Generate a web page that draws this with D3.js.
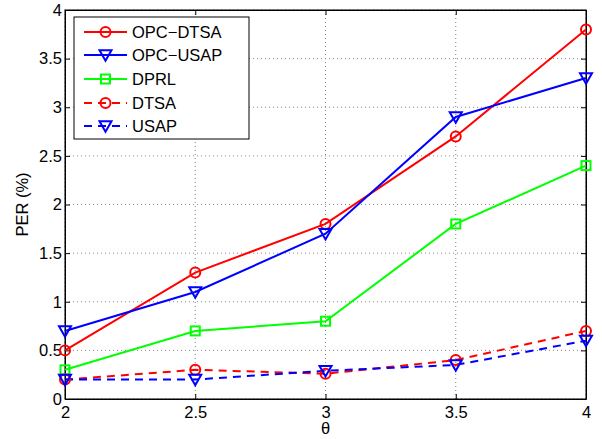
<!DOCTYPE html>
<html>
<head>
<meta charset="utf-8">
<script src="https://d3js.org/d3.v7.min.js"></script>
<style>
  html, body { margin: 0; padding: 0; background: #fff; }
  svg { display: block; font-family: "Liberation Sans", Arial, sans-serif; }
</style>
</head>
<body>
<svg id="chart" width="602" height="439"></svg>
<script>
// Packet error rate versus theta for five schemes
const thetas = [2, 2.5, 3, 3.5, 4];
const xTicks = [2, 2.5, 3, 3.5, 4];
const yTicks = [0, 0.5, 1, 1.5, 2, 2.5, 3, 3.5, 4];

const opcDtsa = [0.5, 1.3, 1.8, 2.7, 3.8];
const opcUsap = [0.7, 1.1, 1.7, 2.9, 3.3];
const dprl    = [0.3, 0.7, 0.8, 1.8, 2.4];
const dtsa    = [0.2, 0.3, 0.26, 0.4, 0.7];
const usap    = [0.2, 0.2, 0.29, 0.35, 0.6];

const seriesNames = ["OPC\u2212DTSA", "OPC\u2212USAP", "DPRL", "DTSA", "USAP"];
const seriesValues = [opcDtsa, opcUsap, dprl, dtsa, usap];
const seriesColors = ["#ff0000", "#0000ff", "#00ff00", "#ff0000", "#0000ff"];
const seriesMarkers = ["circle", "triangle", "square", "circle", "triangle"];
const seriesDashed = [false, false, false, true, true];

const svg = d3.select("#chart");
const pLeft = 65, pRight = 586, pTop = 10, pBottom = 399;
const fontSize = 16.5;

const x = d3.scaleLinear().domain([2, 4]).range([pLeft, pRight]);
const y = d3.scaleLinear().domain([0, 4]).range([pBottom, pTop]);

// dotted grid
const grid = svg.append("g");
xTicks.forEach(t => {
  grid.append("line").attr("x1", x(t)).attr("x2", x(t)).attr("y1", pTop).attr("y2", pBottom)
    .attr("stroke", "#888").attr("stroke-width", 1).attr("stroke-dasharray", "1,3");
});
yTicks.forEach(t => {
  grid.append("line").attr("x1", pLeft).attr("x2", pRight).attr("y1", y(t)).attr("y2", y(t))
    .attr("stroke", "#888").attr("stroke-width", 1).attr("stroke-dasharray", "1,3");
});

// axes with inward ticks on all four sides
const tickLen = 5;
svg.append("g").attr("transform", `translate(0,${pBottom})`)
  .call(d3.axisBottom(x).tickValues(xTicks).tickSizeInner(-tickLen).tickSizeOuter(0).tickPadding(7).tickFormat(d3.format("")));
svg.append("g").attr("transform", `translate(${pLeft},0)`)
  .call(d3.axisLeft(y).tickValues(yTicks).tickSizeInner(-tickLen).tickSizeOuter(0).tickPadding(3).tickFormat(d3.format("")));
svg.append("g").attr("transform", `translate(0,${pTop})`)
  .call(d3.axisTop(x).tickValues(xTicks).tickSizeInner(-tickLen).tickSizeOuter(0).tickFormat(""));
svg.append("g").attr("transform", `translate(${pRight},0)`)
  .call(d3.axisRight(y).tickValues(yTicks).tickSizeInner(-tickLen).tickSizeOuter(0).tickFormat(""));

svg.selectAll(".domain").attr("stroke", "#000").attr("stroke-width", 1);
svg.selectAll(".tick line").attr("stroke", "#000");
svg.selectAll(".tick text").attr("font-size", fontSize).attr("fill", "#000")
  .attr("font-family", "'Liberation Sans', Arial, sans-serif");

// box frame
svg.append("rect").attr("x", pLeft).attr("y", pTop).attr("width", pRight - pLeft).attr("height", pBottom - pTop)
  .attr("fill", "none").attr("stroke", "#000").attr("stroke-width", 1);

// axis titles
svg.append("text").attr("x", (pLeft + pRight) / 2).attr("y", 434).attr("text-anchor", "middle")
  .attr("font-size", fontSize).text("\u03b8");
svg.append("text").attr("transform", `translate(28,${(pTop + pBottom) / 2}) rotate(-90)`)
  .attr("text-anchor", "middle").attr("font-size", fontSize).text("PER (%)");

function drawMarker(g, type, cx, cy, color) {
  if (type === "circle") {
    g.append("circle").attr("cx", cx).attr("cy", cy).attr("r", 5)
      .attr("fill", "none").attr("stroke", color).attr("stroke-width", 2);
  } else if (type === "triangle") {
    const s = 6;
    g.append("path").attr("d", `M${cx - s},${cy - s * 0.8}L${cx + s},${cy - s * 0.8}L${cx},${cy + s * 0.95}Z`)
      .attr("fill", "none").attr("stroke", color).attr("stroke-width", 2);
  } else {
    const s = 4.5;
    g.append("rect").attr("x", cx - s).attr("y", cy - s).attr("width", 2 * s).attr("height", 2 * s)
      .attr("fill", "none").attr("stroke", color).attr("stroke-width", 2);
  }
}

const line = d3.line().x((d, i) => x(thetas[i])).y(d => y(d));
const plot = svg.append("g");
seriesValues.forEach((vals, k) => {
  plot.append("path").datum(vals).attr("d", line)
    .attr("fill", "none").attr("stroke", seriesColors[k]).attr("stroke-width", 2)
    .attr("stroke-dasharray", seriesDashed[k] ? "8,6" : null);
});
seriesValues.forEach((vals, k) => {
  vals.forEach((v, i) => drawMarker(plot, seriesMarkers[k], x(thetas[i]), y(v), seriesColors[k]));
});

// legend
const lg = svg.append("g");
lg.append("rect").attr("x", 74).attr("y", 17).attr("width", 175).attr("height", 122)
  .attr("fill", "#fff").attr("stroke", "#000").attr("stroke-width", 1);
const rowY = [32, 55, 79, 103, 126];
seriesNames.forEach((name, k) => {
  const yy = rowY[k];
  lg.append("line").attr("x1", 84).attr("x2", 127).attr("y1", yy).attr("y2", yy)
    .attr("stroke", seriesColors[k]).attr("stroke-width", 2)
    .attr("stroke-dasharray", seriesDashed[k] ? "8,6" : null);
  drawMarker(lg, seriesMarkers[k], 105.5, yy, seriesColors[k]);
  lg.append("text").attr("x", 132).attr("y", yy + 6).attr("font-size", fontSize).text(name);
});
</script>
</body>
</html>
